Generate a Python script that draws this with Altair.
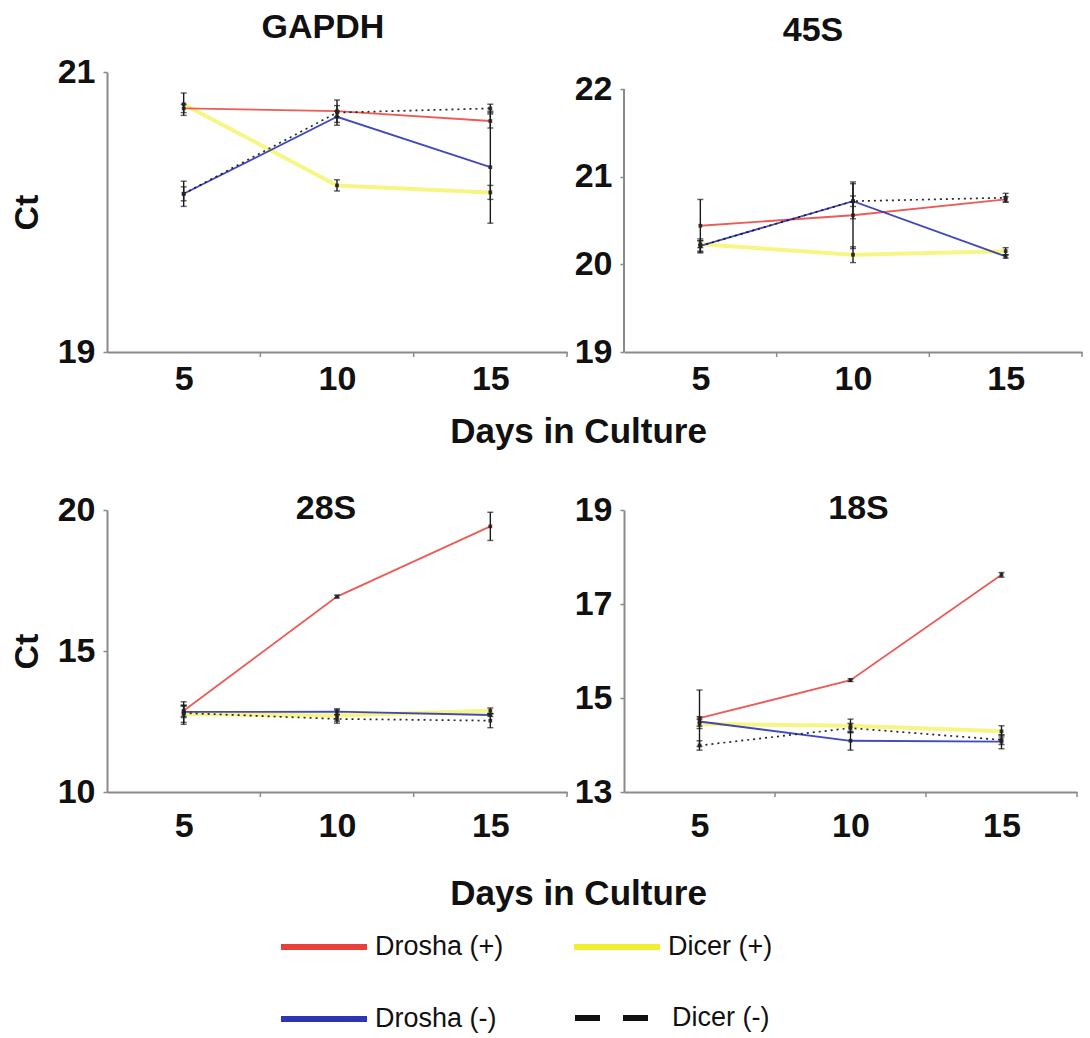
import altair as alt
import pandas as pd

FONT = "Liberation Sans"

DAYS = [5, 10, 15]
SERIES = ["Drosha (+)", "Dicer (+)", "Drosha (-)", "Dicer (-)"]
COLORS = ["#e8403a", "#f2ee30", "#2d35b4", "#111111"]

# GAPDH
GAPDH_DROSHA_POS = [20.74, 20.72, 20.65]
GAPDH_DICER_POS = [20.77, 20.19, 20.14]
GAPDH_DROSHA_NEG = [20.13, 20.68, 20.32]
GAPDH_DICER_NEG = [20.13, 20.71, 20.74]
GAPDH_ERR_DROSHA_POS = [0.03, 0.04, 0.05]
GAPDH_ERR_DICER_POS = [0.08, 0.04, 0.05]
GAPDH_ERR_DROSHA_NEG = [0.09, 0.04, 0.40]
GAPDH_ERR_DICER_NEG = [0.05, 0.09, 0.03]

# 45S
S45_DROSHA_POS = [20.44, 20.56, 20.74]
S45_DICER_POS = [20.23, 20.11, 20.15]
S45_DROSHA_NEG = [20.21, 20.72, 20.09]
S45_DICER_NEG = [20.21, 20.72, 20.76]
S45_ERR_DROSHA_POS = [0.30, 0.38, 0.03]
S45_ERR_DICER_POS = [0.04, 0.09, 0.04]
S45_ERR_DROSHA_NEG = [0.06, 0.06, 0.02]
S45_ERR_DICER_NEG = [0.08, 0.20, 0.05]

# 28S
S28_DROSHA_POS = [12.88, 16.93, 19.42]
S28_DICER_POS = [12.77, 12.71, 12.88]
S28_DROSHA_NEG = [12.84, 12.85, 12.73]
S28_DICER_NEG = [12.80, 12.59, 12.53]
S28_ERR_DROSHA_POS = [0.20, 0.05, 0.50]
S28_ERR_DICER_POS = [0.30, 0.20, 0.10]
S28_ERR_DROSHA_NEG = [0.20, 0.10, 0.05]
S28_ERR_DICER_NEG = [0.40, 0.15, 0.25]

# 18S
S18_DROSHA_POS = [14.57, 15.38, 17.62]
S18_DICER_POS = [14.45, 14.41, 14.29]
S18_DROSHA_NEG = [14.50, 14.09, 14.07]
S18_DICER_NEG = [13.99, 14.36, 14.11]
S18_ERR_DROSHA_POS = [0.60, 0.03, 0.05]
S18_ERR_DICER_POS = [0.10, 0.14, 0.12]
S18_ERR_DROSHA_NEG = [0.10, 0.20, 0.15]
S18_ERR_DICER_NEG = [0.10, 0.10, 0.10]

GENES = {
    "GAPDH": ([GAPDH_DROSHA_POS, GAPDH_DICER_POS, GAPDH_DROSHA_NEG, GAPDH_DICER_NEG],
              [GAPDH_ERR_DROSHA_POS, GAPDH_ERR_DICER_POS, GAPDH_ERR_DROSHA_NEG, GAPDH_ERR_DICER_NEG]),
    "45S": ([S45_DROSHA_POS, S45_DICER_POS, S45_DROSHA_NEG, S45_DICER_NEG],
            [S45_ERR_DROSHA_POS, S45_ERR_DICER_POS, S45_ERR_DROSHA_NEG, S45_ERR_DICER_NEG]),
    "28S": ([S28_DROSHA_POS, S28_DICER_POS, S28_DROSHA_NEG, S28_DICER_NEG],
            [S28_ERR_DROSHA_POS, S28_ERR_DICER_POS, S28_ERR_DROSHA_NEG, S28_ERR_DICER_NEG]),
    "18S": ([S18_DROSHA_POS, S18_DICER_POS, S18_DROSHA_NEG, S18_DICER_NEG],
            [S18_ERR_DROSHA_POS, S18_ERR_DICER_POS, S18_ERR_DROSHA_NEG, S18_ERR_DICER_NEG]),
}

rows = []
for gene, (vals, errs) in GENES.items():
    for s, v, e in zip(SERIES, vals, errs):
        for d, c, er in zip(DAYS, v, e):
            rows.append({"gene": gene, "series": s, "day": d, "ct": c, "err": er})
df = pd.DataFrame(rows)

BOUNDS = [(a + b) / 2 for a, b in zip(DAYS, DAYS[1:])] + [DAYS[-1] + 2.5]
X_DOMAIN = [DAYS[0] - 2.5, DAYS[-1] + 2.5]

AXIS_GREY = "#8a8a8a"
color_scale = alt.Scale(domain=SERIES[:3], range=COLORS[:3])
stroke_scale = alt.Scale(domain=SERIES[3:], range=COLORS[3:])

LEGEND_COLOR = alt.Legend(
    orient="none", legendX=171, legendY=391, columns=2, direction="horizontal",
    columnPadding=58, rowPadding=13, symbolType="stroke", symbolSize=7396,
    symbolStrokeWidth=6, labelFont=FONT, labelFontSize=27, labelColor="#111",
    labelOffset=5, labelLimit=400, title=None, padding=0, symbolOpacity=1,
)
LEGEND_DASH = alt.Legend(
    orient="none", legendX=465, legendY=465, direction="horizontal",
    symbolType="stroke", symbolSize=6400, symbolStrokeWidth=6, symbolDash=[25, 23],
    labelFont=FONT, labelFontSize=27, labelColor="#111", labelOffset=14,
    labelLimit=400, title=None, padding=0, symbolOpacity=1,
)


def make_panel(gene, ydomain, yticks, width, height, title_dx, title_dy,
               ct_title, days_title_y, show_legend, axis_rule, xlabel_pad):
    sub = df[df.gene == gene]
    base = alt.Chart(sub)
    xs = alt.Scale(domain=X_DOMAIN, nice=False, zero=False)
    ys = alt.Scale(domain=ydomain, nice=False, zero=False)
    xkw = dict(values=DAYS, format="d", ticks=False, labelFont=FONT, labelFontSize=34,
               labelFontWeight="bold", labelColor="#111", labelPadding=xlabel_pad,
               domainColor=AXIS_GREY, domainWidth=2, grid=False, labelFlush=False)
    if days_title_y:
        xkw.update(title="Days in Culture", titleFont=FONT, titleFontSize=35,
                   titleFontWeight="bold", titleColor="#111", titleX=471, titleY=days_title_y,
                   titleAlign="center", titleBaseline="alphabetic", titleAnchor="start")
    else:
        xkw.update(title=None)
    xaxis = alt.Axis(**xkw)
    ykw = dict(values=yticks, format="d", labelFont=FONT, labelFontSize=34,
               labelFontWeight="bold", labelColor="#111", labelPadding=8,
               tickColor=AXIS_GREY, tickSize=4, tickWidth=1.5, domainColor=AXIS_GREY,
               domainWidth=2, grid=False, domain=not axis_rule)
    if ct_title:
        ykw.update(title="Ct", titleFont=FONT, titleFontSize=34, titleFontWeight="bold",
                   titleColor="#111", titlePadding=13)
    else:
        ykw.update(title=None)
    yaxis = alt.Axis(**ykw)
    X = alt.X("day:Q", scale=xs, axis=xaxis)
    Y = alt.Y("ct:Q", scale=ys, axis=yaxis)

    layers = []
    if axis_rule:
        layers.append(
            alt.Chart(pd.DataFrame({"lo": [yticks[0]], "hi": [yticks[-1]]}))
            .mark_rule(color=AXIS_GREY, strokeWidth=2)
            .encode(x=alt.value(0), y=alt.Y("lo:Q", scale=ys, axis=yaxis), y2="hi:Q")
        )
    layers.append(
        alt.Chart(pd.DataFrame({"b": BOUNDS}))
        .mark_rule(color=AXIS_GREY, strokeWidth=1.5)
        .encode(x=alt.X("b:Q", scale=xs, axis=xaxis), y=alt.value(height), y2=alt.value(height + 5))
    )
    line_styles = [
        ("Dicer (+)", dict(strokeWidth=4, opacity=0.6)),
        ("Drosha (+)", dict(strokeWidth=1.8, opacity=0.85)),
        ("Drosha (-)", dict(strokeWidth=1.8, opacity=0.9)),
    ]
    for s, kw in line_styles:
        layers.append(
            base.transform_filter(alt.datum.series == s)
            .mark_line(**kw)
            .encode(x=X, y=Y, color=alt.Color(
                "series:N", scale=color_scale, sort=SERIES[:3],
                legend=LEGEND_COLOR if show_legend else None))
        )
    layers.append(
        base.transform_filter(alt.datum.series == SERIES[3])
        .transform_calculate(grp="datum.series")
        .mark_line(strokeWidth=1.7, opacity=0.9, strokeDash=[2, 4])
        .encode(x=X, y=Y, stroke=alt.Stroke(
            "grp:N", scale=stroke_scale,
            legend=LEGEND_DASH if show_legend else None))
    )
    eb = base.transform_calculate(lo="datum.ct - datum.err", hi="datum.ct + datum.err")
    layers.append(
        eb.mark_rule(color="#1a1a1a", strokeWidth=1.4)
        .encode(x=X, y=alt.Y("lo:Q", scale=ys, axis=yaxis), y2="hi:Q")
    )
    for f in ["lo", "hi"]:
        layers.append(
            eb.mark_tick(color="#1a1a1a", size=6, thickness=1.4, orient="horizontal")
            .encode(x=X, y=alt.Y(f + ":Q", scale=ys, axis=yaxis))
        )
    layers.append(
        base.mark_square(size=14, color="#222", opacity=0.9).encode(x=X, y=Y)
    )
    return alt.layer(*layers).properties(
        width=width, height=height,
        title=alt.TitleParams(gene, font=FONT, fontSize=34, fontWeight="bold", color="#111",
                              anchor="middle", dx=title_dx, dy=title_dy, offset=25),
    )


p1 = make_panel("GAPDH", [19, 21], [19, 20, 21], 460, 280, -14, 15, True, 90, False, False, 10)
p2 = make_panel("45S", [19, 22.194], [19, 20, 21, 22], 458, 280, -40, 1, False, 0, False, True, 10)
p3 = make_panel("28S", [10, 20], [10, 15, 20], 460, 282, -11, 58, True, 112, True, False, 17)
p4 = make_panel("18S", [13, 19], [13, 15, 17, 19], 453, 282, 8, 58, False, 0, False, False, 17)

chart = (
    alt.concat(p1, p2, p3, p4, columns=2, spacing=alt.RowColnumber(row=158, column=57), bounds="flush")
    .resolve_scale(color="independent", stroke="independent")
    .properties(padding={"left": 10, "top": 11, "right": 5, "bottom": 5}, background="white")
    .configure_view(stroke=None)
)

chart.save("out.html", embed_options={"renderer": "svg", "actions": False})
